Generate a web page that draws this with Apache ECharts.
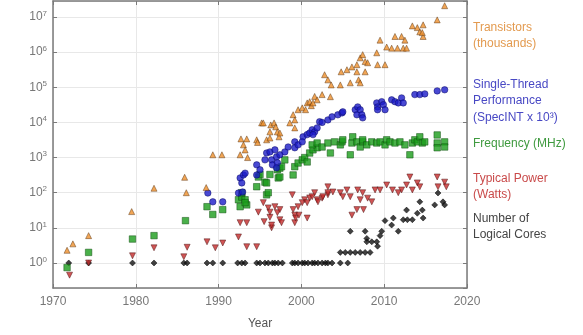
<!DOCTYPE html>
<html>
<head>
<meta charset="utf-8">
<script src="https://cdn.jsdelivr.net/npm/echarts@6/dist/echarts.min.js"></script>
<style>
  html, body { margin: 0; padding: 0; background: #fff; }
  #chart { width: 583px; height: 335px; }
</style>
</head>
<body>
<div id="chart"></div>
<script>
// [year, value]
const transistors = [
  [1971.7, 2.3], [1972.4, 3.5], [1974.3, 6], [1979.5, 29], [1982.2, 134], [1985.9, 275], [1986.1, 100],
  [1988.5, 140], [1989.3, 1200], [1990.4, 1200], [1992.6, 1200], [1992.7, 3400], [1993.0, 2300],
  [1993.2, 1650], [1993.4, 3400], [1993.5, 1000], [1994.6, 3200], [1994.7, 2700], [1995.2, 9700],
  [1995.4, 9700], [1995.8, 3200], [1996.2, 5400], [1996.2, 3600], [1996.3, 8500], [1996.7, 9700],
  [1996.9, 7500], [1997.1, 5400], [1997.3, 3900], [1997.4, 5000], [1998.6, 9700], [1999.0, 16600],
  [1999.2, 11800], [1999.2, 7000], [1999.6, 23000], [2000.1, 26000], [2000.5, 23000], [2000.7, 36000],
  [2001.0, 39000], [2001.2, 30000], [2001.4, 36000], [2001.6, 55000], [2001.9, 44000], [2002.5, 62000],
  [2003.5, 54000], [2002.8, 228000], [2003.2, 163000], [2003.6, 117000], [2004.7, 117000],
  [2004.8, 276000], [2005.5, 316000], [2005.9, 134000], [2006.1, 380000], [2006.7, 440000],
  [2006.7, 276000], [2006.9, 163000], [2007.1, 690000], [2007.4, 850000], [2007.7, 276000],
  [2007.1, 134000], [2007.7, 540000], [2008.0, 500000], [2009.1, 960000], [2009.2, 440000],
  [2009.5, 2200000], [2010.1, 440000], [2010.3, 1400000], [2010.9, 1300000], [2011.3, 2800000],
  [2011.6, 1300000], [2012.1, 2800000], [2012.3, 1300000], [2012.7, 1300000], [2012.5, 2200000],
  [2013.4, 5600000], [2014.0, 5000000], [2014.3, 3800000], [2014.7, 6000000], [2014.7, 2800000],
  [2014.6, 3600000], [2016.4, 8300000], [2017.3, 21000000]
];
const singleThread = [
  [1988.7, 98], [1989.3, 55], [1990.5, 55], [1992.4, 98], [1992.6, 263], [1992.8, 190], [1992.9, 105],
  [1993.0, 320], [1993.2, 360], [1994.6, 620], [1994.6, 320], [1995.0, 450], [1995.6, 860],
  [1995.8, 1350], [1996.2, 1450], [1996.4, 860], [1996.5, 620], [1996.8, 1660], [1997.0, 1050],
  [1997.1, 710], [1997.0, 510], [1997.4, 1200], [1998.0, 1450], [1998.4, 2000], [1999.2, 2800],
  [1999.2, 1900], [1999.6, 2300], [2000.2, 3900], [2000.1, 2800], [2000.7, 4500], [2001.0, 5000],
  [2001.3, 6200], [2001.6, 5400], [2001.9, 7000], [2001.4, 4500], [2002.2, 10500], [2002.5, 10000],
  [2003.2, 11800], [2003.7, 14400], [2004.4, 16500], [2004.9, 18700], [2005.0, 20000], [2006.5, 23000],
  [2006.7, 16500], [2006.8, 27700], [2007.1, 23000], [2007.3, 16500], [2007.4, 13500], [2009.1, 36000],
  [2009.2, 27700], [2009.2, 23000], [2009.7, 39000], [2009.9, 32000], [2010.1, 23000], [2010.9, 44000],
  [2011.3, 39000], [2011.7, 36000], [2012.1, 50000], [2012.3, 36000], [2013.7, 62000], [2014.3, 62000],
  [2014.9, 65000], [2016.4, 79000], [2017.3, 85000]
];
const frequency = [
  [1971.7, 0.74], [1974.3, 2], [1979.6, 4.8], [1982.2, 6], [1986.0, 16], [1988.6, 40], [1989.3, 24],
  [1990.5, 33], [1992.4, 63], [1992.6, 40], [1992.8, 75], [1992.8, 100], [1993.2, 63], [1993.4, 45],
  [1993.2, 52], [1994.6, 148], [1994.8, 280], [1995.0, 330], [1995.6, 200], [1995.8, 190], [1995.8, 87],
  [1996.0, 100], [1996.2, 330], [1997.1, 450], [1997.2, 263], [1997.4, 280], [1997.4, 500], [1997.6, 550],
  [1998.0, 860], [1999.0, 320], [1999.2, 550], [1999.6, 700], [2000.1, 860], [2000.4, 1000],
  [2000.7, 750], [2001.0, 1350], [2001.4, 1660], [2001.9, 1900], [2001.3, 2300], [2001.9, 2600],
  [2002.5, 2000], [2003.2, 2600], [2003.5, 1350], [2004.0, 2800], [2004.7, 2300], [2004.9, 2800],
  [2005.0, 3200], [2005.9, 1200], [2006.1, 2600], [2006.2, 3900], [2006.7, 2800], [2007.1, 2000],
  [2007.4, 2800], [2007.4, 3200], [2007.9, 2300], [2008.5, 2800], [2009.1, 2600], [2009.5, 2800],
  [2010.1, 2300], [2010.3, 3200], [2010.7, 2800], [2011.3, 2600], [2011.9, 2800], [2012.5, 2300],
  [2013.1, 1200], [2013.4, 2600], [2013.7, 3200], [2014.0, 2800], [2014.3, 3900], [2014.6, 2600],
  [2014.9, 2800], [2016.4, 2600], [2016.4, 1900], [2016.4, 4400], [2017.3, 2800], [2017.3, 2000]
];
const typicalPower = [
  [1972.0, 0.45], [1974.3, 1], [1979.6, 1.6], [1982.2, 2.7], [1985.8, 1.5], [1986.2, 2.8], [1988.6, 4],
  [1989.6, 2.7], [1990.5, 3.7], [1992.4, 5.5], [1992.6, 14], [1993.4, 14], [1993.4, 2.9], [1994.6, 2.9],
  [1994.8, 28], [1995.4, 52], [1995.5, 15], [1996.0, 37], [1996.2, 20], [1996.2, 28], [1996.4, 10],
  [1996.4, 12], [1996.8, 40], [1997.1, 27], [1997.4, 33], [1997.4, 17], [1997.6, 14], [1998.9, 87],
  [1999.0, 33], [1999.2, 23], [1999.2, 14], [1999.3, 19], [1999.6, 40], [1999.7, 23], [2000.1, 52],
  [2000.4, 63], [2000.7, 19], [2000.7, 52], [2001.0, 71], [2001.3, 77], [2001.6, 100], [2001.9, 63],
  [2002.0, 55], [2002.5, 70], [2002.6, 77], [2003.2, 87], [2003.2, 147], [2003.2, 100], [2003.8, 105],
  [2004.7, 100], [2005.0, 77], [2005.5, 120], [2005.9, 77], [2006.1, 23], [2006.7, 33], [2007.5, 33],
  [2006.8, 120], [2007.1, 63], [2007.4, 100], [2008.0, 70], [2008.5, 55], [2008.9, 120], [2009.5, 120],
  [2010.3, 166], [2011.0, 120], [2011.7, 100], [2012.1, 120], [2012.7, 166], [2013.1, 280], [2013.4, 120],
  [2014.0, 190], [2014.3, 147], [2016.4, 280], [2016.5, 147], [2017.3, 200], [2017.5, 147]
];
const logicalCores = [
  [1971.9, 1], [1974.3, 1], [1979.6, 1], [1982.2, 1], [1985.8, 1], [1986.2, 1], [1988.6, 1], [1989.3, 1],
  [1990.5, 1], [1992.3, 1], [1992.8, 1], [1993.2, 1], [1994.6, 1], [1995.0, 1], [1995.6, 1], [1996.0, 1],
  [1996.5, 1], [1996.8, 1], [1997.2, 1], [1997.7, 1], [1998.9, 1], [1999.2, 1], [1999.6, 1], [2000.1, 1],
  [2000.4, 1], [2000.8, 1], [2001.3, 1], [2001.6, 1], [2002.0, 1], [2002.5, 1], [2002.9, 1], [2003.2, 1],
  [2003.7, 1], [2004.7, 1], [2005.6, 1],
  [2004.7, 2], [2005.3, 2], [2005.9, 2], [2006.5, 2], [2007.1, 2], [2007.7, 2], [2008.3, 2],
  [2005.9, 8], [2007.7, 8], [2007.9, 5], [2007.9, 4], [2008.5, 4], [2009.1, 4], [2009.2, 3], [2009.5, 6],
  [2009.7, 8], [2010.1, 16], [2010.9, 12], [2011.1, 19], [2011.7, 8], [2012.3, 17], [2012.7, 32],
  [2012.8, 17], [2013.4, 17], [2014.0, 26], [2014.3, 55], [2014.6, 32], [2014.7, 19], [2016.1, 45],
  [2016.5, 98], [2017.1, 55], [2017.3, 45]
];

const legendLabels = [
  { lines: ['Transistors', '(thousands)'], color: '#e39a4f', top: 19 },
  { lines: ['Single-Thread', 'Performance', '(SpecINT x 10³)'], color: '#4848c4', top: 76 },
  { lines: ['Frequency (MHz)'], color: '#3f9a3f', top: 135 },
  { lines: ['Typical Power', '(Watts)'], color: '#c94a4a', top: 170 },
  { lines: ['Number of', 'Logical Cores'], color: '#444444', top: 210 }
];

const font = 'Liberation Sans';
const axisColor = '#7a7a7a';
const yMin = 0.194, yMax = 2.86e7;

const chart = echarts.init(document.getElementById('chart'));

function scatter(name, data, symbol, size, color, border, rotate) {
  return {
    name: name,
    type: 'scatter',
    data: data,
    symbol: symbol,
    symbolSize: size,
    symbolRotate: rotate || 0,
    itemStyle: { color: color, borderColor: border, borderWidth: 0.6 },
    silent: true
  };
}

chart.setOption({
  animation: false,
  textStyle: { fontFamily: font },
  grid: { left: 53, right: 116, top: 1, bottom: 47 },
  xAxis: [
    {
      type: 'value', min: 1970, max: 2020, interval: 10,
      name: 'Year', nameLocation: 'middle', nameGap: 30,
      nameTextStyle: { color: '#555', fontSize: 12, fontFamily: font },
      axisLine: { show: true, lineStyle: { color: axisColor, width: 1.5 } },
      axisTick: { inside: true, length: 4, lineStyle: { color: axisColor } },
      axisLabel: {
        color: '#777', fontSize: 12, margin: 8, fontFamily: font,
        formatter: function (v) { return String(v); }
      },
      splitLine: { show: true, lineStyle: { color: '#e8e8e8', width: 1 } }
    },
    {
      type: 'value', min: 1970, max: 2020, interval: 10, position: 'top',
      axisLine: { show: true, lineStyle: { color: axisColor, width: 1.5 } },
      axisTick: { inside: true, length: 4, lineStyle: { color: axisColor } },
      axisLabel: { show: false },
      splitLine: { show: false }
    }
  ],
  yAxis: [
    {
      type: 'log', logBase: 10, min: yMin, max: yMax, splitNumber: 8,
      axisLine: { show: true, lineStyle: { color: axisColor, width: 1.5 } },
      axisTick: { inside: true, length: 4, lineStyle: { color: axisColor } },
      minorTick: { show: false },
      axisLabel: {
        color: '#777', fontSize: 12, margin: 6, fontFamily: font,
        showMinLabel: false, showMaxLabel: false,
        formatter: function (v) {
          const e = Math.round(Math.log10(v));
          return '{b|10}{sup|' + e + '}';
        },
        rich: {
          b: { fontSize: 12, color: '#777', fontFamily: font },
          sup: { fontSize: 8, color: '#777', fontFamily: font, padding: [0, 0, 7, 0] }
        }
      },
      splitLine: { show: true, lineStyle: { color: '#e8e8e8', width: 1 } }
    },
    {
      type: 'log', logBase: 10, min: yMin, max: yMax, splitNumber: 8, position: 'right',
      axisLine: { show: true, lineStyle: { color: axisColor, width: 1.5 } },
      axisTick: { inside: true, length: 4, lineStyle: { color: axisColor } },
      axisLabel: { show: false },
      splitLine: { show: false }
    }
  ],
  series: [
    scatter('Number of Logical Cores', logicalCores, 'diamond', 6, '#111111', '#000000'),
    scatter('Typical Power', typicalPower, 'triangle', 6, '#c42a2a', '#4a1010', 180),
    scatter('Frequency', frequency, 'rect', 6.5, '#1c9c1c', '#0c4a0c'),
    scatter('Single-Thread Performance', singleThread, 'circle', 6.5, '#1c1cc8', '#0a0a60'),
    scatter('Transistors', transistors, 'triangle', 6, '#ee8f2a', '#5a3410')
  ],
  graphic: legendLabels.map(function (l) {
    return {
      type: 'text', left: 473, top: l.top, silent: true,
      style: {
        text: l.lines.join('\n'),
        fill: l.color,
        font: '12px "' + font + '"',
        lineHeight: 16.5
      }
    };
  })
});
</script>
</body>
</html>
